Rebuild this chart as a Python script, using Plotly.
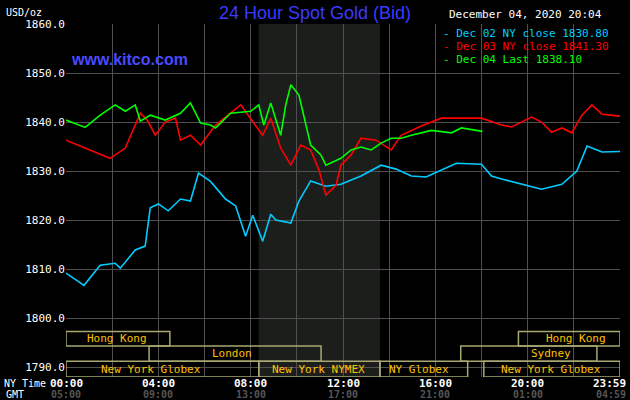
import plotly.graph_objects as go

blue_h = [0,0.78,1.48,2.13,2.35,3.0,3.43,3.65,4.0,4.43,4.96,5.39,5.74,6.26,6.91,7.35,7.78,8.09,8.52,8.87,9.09,9.74,10.09,10.6,11.26,11.91,12.78,13.65,14.3,14.96,15.6,16.26,16.91,18.0,18.43,18.87,19.74,20.6,21.48,22.13,22.57,23.22,24]
blue_v = [1809.2,1806.7,1810.8,1811.2,1810.2,1813.9,1814.7,1822.5,1823.3,1821.9,1824.3,1823.9,1829.6,1827.9,1824.3,1822.9,1816.7,1821.0,1815.7,1821.2,1820.0,1819.4,1823.9,1828.0,1826.9,1827.3,1829.0,1831.2,1830.4,1829.0,1828.8,1830.2,1831.6,1831.4,1829.0,1828.4,1827.3,1826.3,1827.3,1830.0,1835.1,1833.9,1834.0]
red_h = [0,1.04,1.91,2.57,3.22,3.52,3.87,4.3,4.74,4.96,5.39,5.83,6.48,7.57,8.22,8.52,8.87,9.3,9.74,10.17,10.6,10.96,11.26,11.7,11.91,12.35,12.78,13.43,14.09,14.52,15.39,16.26,18.0,18.87,19.3,20.17,20.6,21.04,21.48,21.91,22.35,22.78,23.22,24]
red_v = [1836.3,1834.3,1832.6,1834.7,1841.8,1840.4,1837.3,1840.0,1840.8,1836.3,1837.3,1835.3,1839.4,1843.5,1839.4,1837.3,1840.8,1834.7,1831.2,1835.3,1834.3,1830.2,1825.1,1827.1,1831.2,1833.3,1836.7,1836.3,1834.3,1837.3,1839.2,1840.8,1840.8,1839.4,1839.0,1841.0,1840.0,1837.9,1838.8,1837.8,1841.4,1843.5,1841.6,1841.2]
green_h = [0,0.83,1.48,2.13,2.57,3.0,3.22,3.65,4.3,4.96,5.39,5.83,6.26,6.48,7.13,8.0,8.35,8.57,8.87,9.3,9.52,9.74,10.09,10.39,10.6,11.04,11.26,11.91,12.35,12.78,13.22,13.65,14.09,14.52,14.96,15.83,16.7,17.13,18.04]
green_v = [1840.4,1838.9,1841.4,1843.5,1842.2,1843.5,1840.2,1841.4,1840.4,1841.8,1843.9,1839.8,1839.4,1838.8,1841.8,1842.2,1843.5,1839.4,1843.9,1837.3,1843.5,1847.6,1845.5,1839.4,1835.3,1833.3,1831.2,1832.6,1834.3,1834.9,1834.3,1835.7,1836.7,1836.7,1837.3,1838.3,1837.8,1838.8,1838.1]

y_ticks = [1790,1800,1810,1820,1830,1840,1850,1860]
ny_labels = ["00:00","04:00","08:00","12:00","16:00","20:00","23:59"]
gmt_labels = ["05:00","09:00","13:00","17:00","21:00","01:00","04:59"]
tick_hours = [0,4,8,12,16,20,24]
legend_text = ["Dec 02 NY close 1830.80","Dec 03 NY close 1841.30","Dec 04 Last 1838.10"]
colors = ["#00ccff","#ff0000","#00ff00"]
sessions = [("Hong Kong",0,4.5,0,2.2),("Hong Kong",19.6,24,0,22.1),
            ("London",3.6,11.05,1,7.2),("Sydney",17.1,23.0,1,21.0),
            ("New York Globex",0,8.35,2,3.7),("New York NYMEX",8.35,13.6,2,10.95),
            ("NY Globex",13.6,17.4,2,15.3),("New York Globex",18.1,24,2,21.0)]
rows = [(1794.3,1797.3),(1791.2,1794.3),(1788.0,1791.2)]

F = "DejaVu Sans Mono"
fig = go.Figure()
for h, v, c in [(blue_h, blue_v, colors[0]), (red_h, red_v, colors[1]), (green_h, green_v, colors[2])]:
    fig.add_trace(go.Scatter(x=h, y=v, mode="lines", line=dict(color=c, width=1.6), showlegend=False))

shapes = [dict(type="rect", xref="x", yref="y", x0=8.35, x1=13.6, y0=1788, y1=1860,
               fillcolor="#1c1e1c", line_width=0, layer="below")]
for name, s, e, r, lx in sessions:
    y0, y1 = rows[r]
    shapes.append(dict(type="rect", xref="x", yref="y", x0=s, x1=e, y0=y0, y1=y1,
                       line=dict(color="#a8a870", width=1.5), fillcolor="rgba(0,0,0,0)"))
    fig.add_annotation(x=lx, y=(y0+y1)/2, text=name, showarrow=False, xref="x", yref="y",
                       font=dict(family=F, size=11, color="#ffc000"))
for i, (h, a, b) in enumerate(zip(tick_hours, ny_labels, gmt_labels)):
    xa = "right" if i == len(tick_hours) - 1 else "center"
    xs = 8 if i == len(tick_hours) - 1 else 0
    fig.add_annotation(x=h, y=0, xref="x", yref="paper", text="<b>"+a+"</b>", showarrow=False,
                       xanchor=xa, xshift=xs, yanchor="top", yshift=2, font=dict(family=F, size=11, color="white"))
    fig.add_annotation(x=h, y=0, xref="x", yref="paper", text="<b>"+b+"</b>", showarrow=False,
                       xanchor=xa, xshift=xs, yanchor="top", yshift=-10, font=dict(family=F, size=10, color="#555555"))

fig.update_layout(
    width=630, height=400, paper_bgcolor="black", plot_bgcolor="black",
    margin=dict(l=66, r=10, t=24, b=23, autoexpand=False),
    xaxis=dict(range=[0, 24], tickvals=list(range(0, 25, 2)), showticklabels=False, automargin=False,
               gridcolor="#505050", gridwidth=1, zeroline=False, showline=False),
    yaxis=dict(range=[1788, 1860], tickvals=y_ticks, ticktext=[f"{v}.0" for v in y_ticks], automargin=False,
               gridcolor="#505050", zeroline=False, tickfont=dict(family=F, size=11, color="white"), ticks=""),
    shapes=shapes, showlegend=False,
)
fig.add_annotation(x=0, y=0, xref="paper", yref="paper", text="NY Time", showarrow=False, xanchor="right", yanchor="top",
                   xshift=-18, yshift=1, font=dict(family=F, size=10, color="white"))
fig.add_annotation(x=0, y=0, xref="paper", yref="paper", text="GMT", showarrow=False, xanchor="right", yanchor="top",
                   xshift=-40, yshift=-10, font=dict(family=F, size=10, color="white"))
fig.add_annotation(x=0, y=1, xref="paper", yref="paper", text="USD/oz", showarrow=False, xanchor="right", yanchor="bottom",
                   xshift=-22, yshift=4, font=dict(family=F, size=10, color="white"))
fig.add_annotation(x=0.45, y=1, xref="paper", yref="paper", text="24 Hour Spot Gold (Bid)", showarrow=False,
                   yanchor="bottom", yshift=-1, font=dict(family="Liberation Sans", size=18, color="#3a3aff"))
fig.add_annotation(x=0.005, y=0.93, xref="paper", yref="paper", text="<b>www.kitco.com</b>", showarrow=False,
                   xanchor="left", font=dict(family="Liberation Sans", size=16, color="#4a4aff"))
fig.add_annotation(x=0.687, y=1, xref="paper", yref="paper", text="December 04, 2020 20:04", showarrow=False,
                   xanchor="left", yanchor="bottom", yshift=1, font=dict(family=F, size=11, color="white"))
for i, (t, c) in enumerate(zip(legend_text, colors)):
    fig.add_annotation(x=0.677, y=1, xref="paper", yref="paper", text="- " + t, showarrow=False,
                       xanchor="left", yanchor="top", yshift=-1 - 13*i,
                       font=dict(family=F, size=11, color=c))
fig.write_html("out.html", config={"displayModeBar": False})
with open("out.html", encoding="utf-8") as f:
    html = f.read()
html = html.replace("<head>", "<head><style>body{margin:0;background:black;}</style>", 1)
with open("out.html", "w", encoding="utf-8") as f:
    f.write(html)
